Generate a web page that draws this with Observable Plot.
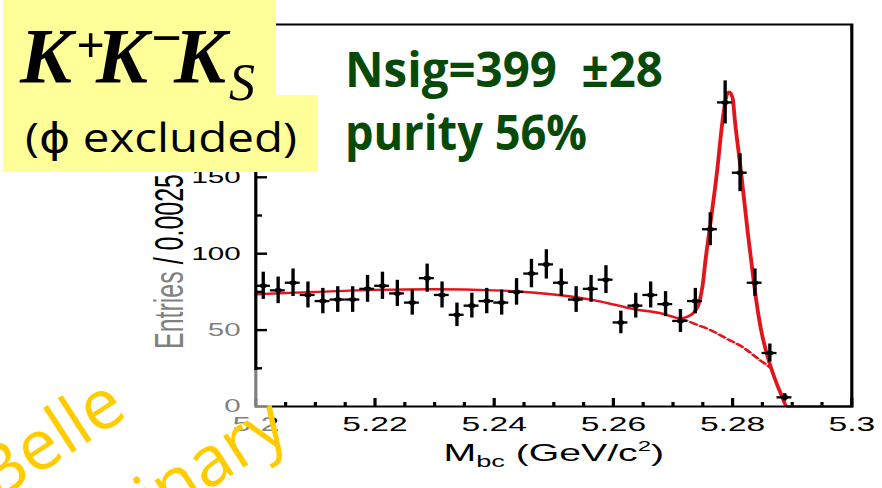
<!DOCTYPE html>
<html>
<head>
<meta charset="utf-8">
<script src="https://cdn.jsdelivr.net/npm/d3@7"></script>
<script src="https://cdn.jsdelivr.net/npm/@observablehq/plot@0.6"></script>
<style>
  html, body { margin: 0; padding: 0; background: #fff; }
  #wrap { position: relative; width: 882px; height: 488px; overflow: hidden; }
  #wrap svg.overlay { position: absolute; left: 0; top: 0; }
</style>
</head>
<body>
<div id="wrap"></div>
<script>
// ---- M_bc histogram, 0.0025 GeV/c^2 bins (bin centres) ----
const binCenters = [
  5.20125, 5.20375, 5.20625, 5.20875, 5.21125, 5.21375, 5.21625, 5.21875,
  5.22125, 5.22375, 5.22625, 5.22875, 5.23125, 5.23375, 5.23625, 5.23875,
  5.24125, 5.24375, 5.24625, 5.24875, 5.25125, 5.25375, 5.25625, 5.25875,
  5.26125, 5.26375, 5.26625, 5.26875, 5.27125, 5.27375, 5.27625, 5.27875,
  5.28125, 5.28375, 5.28625, 5.28875
];
const entries = [
  79, 76, 81, 73, 69, 70, 70, 77,
  79, 74, 68, 84, 73, 60, 66, 69,
  68, 75, 87, 93, 81, 70, 77, 83,
  55, 66, 73, 67, 56, 69, 116, 199,
  153, 81, 35, 6
];
const errors = [
  8.9, 8.7, 9.0, 8.5, 8.3, 8.4, 8.4, 8.8,
  8.9, 8.6, 8.2, 9.2, 8.5, 7.7, 8.1, 8.3,
  8.2, 8.7, 9.3, 9.6, 9.0, 8.4, 8.8, 9.1,
  7.4, 8.1, 8.5, 8.2, 7.5, 8.3, 10.8, 14.1,
  12.4, 9.0, 5.9, 2.4
];
const halfBin = 0.00125;

// ---- total fit (signal + background) ----
const fitMass = [
  5.2000, 5.2100, 5.2200, 5.2300, 5.2400, 5.2500, 5.2579, 5.2634, 5.2680,
  5.2713, 5.2724, 5.2735, 5.2744, 5.2750, 5.2755, 5.2761, 5.2774, 5.2783,
  5.2789, 5.2794, 5.2800, 5.2804, 5.2814, 5.2826, 5.2832, 5.2839, 5.2847,
  5.2859, 5.2870, 5.2881, 5.2892, 5.3000
];
const fitTotal = [
  73.5, 75.0, 76.3, 76.7, 76.0, 73.3, 68.7, 63.7, 61.0,
  57.8, 58.8, 61.5, 68.0, 80.0, 97.4, 114.8, 154.0, 186.6,
  202.0, 206.0, 202.0, 186.6, 154.0, 112.0, 93.0, 71.3, 51.7,
  32.2, 19.1, 8.3, 0, 0
];

// ---- background component (dashed) ----
const bkgMass = [5.2713, 5.2735, 5.2763, 5.2791, 5.2819, 5.2836, 5.2847, 5.2859, 5.2864];
const bkgValue = [57.8, 54.3, 50.0, 44.2, 38.3, 33.3, 30.0, 26.7, 25.2];

// ---- axes ----
const xMajor = [5.2, 5.22, 5.24, 5.26, 5.28, 5.3];
const xTickLabels = ["5.2", "5.22", "5.24", "5.26", "5.28", "5.3"];
const xMinor = [5.205, 5.21, 5.215, 5.225, 5.23, 5.235, 5.245, 5.25, 5.255,
                5.265, 5.27, 5.275, 5.285, 5.29, 5.295];
const yMajor = [0, 50, 100, 150, 200];
const yTickLabels = ["0", "50", "100", "150", "200"];
const yMinor = [25, 75, 125, 175, 225];
const xLabelParts = ["M", "bc", " (GeV/c", "2", ")"];
const xLabelText = xLabelParts.join("");
const yLabelText = "Entries / 0.0025";

// ---- annotations ----
const channelParts = ["K", "+", "K", "\u2212", "K", "S"];
const channelNote = "(\u03d5 excluded)";
const fitNotes = ["Nsig=399\u00a0\u00a0\u00b128", "purity 56%"];
const watermark = ["Belle", "Preliminary"];

const RED = "#e3151c";
const SX = 1.6;             // horizontal stretch of the drawing
const W = 882 / SX;
const mL = 255 / SX, mR = (882 - 851) / SX, mT = 24, mB = 82;
const frameW = W - mL - mR, frameH = 488 - mT - mB;

const bins = binCenters.map((m, i) => ({m, n: entries[i], e: errors[i]}));
const fit = fitMass.map((m, i) => ({m, v: fitTotal[i]}));
const bkg = bkgMass.map((m, i) => ({m, v: bkgValue[i]}));

const plot = Plot.plot({
  width: W,
  height: 488,
  marginLeft: mL,
  marginRight: mR,
  marginTop: mT,
  marginBottom: mB,
  style: {fontFamily: "'Liberation Sans', Arial, sans-serif", background: "transparent", color: "#000"},
  x: {domain: [5.2, 5.3]},
  y: {domain: [0, 250]},
  marks: [
    // inward ticks
    Plot.tickY(yMajor, {y: d => d, insetRight: frameW - 7.5, stroke: "#000", strokeWidth: 2.4}),
    Plot.tickY(yMinor, {y: d => d, insetRight: frameW - 4.4, stroke: "#000", strokeWidth: 2.4}),
    Plot.tickX(xMajor, {x: d => d, insetTop: frameH - 8, stroke: "#000", strokeWidth: 2}),
    Plot.tickX(xMinor, {x: d => d, insetTop: frameH - 4, stroke: "#000", strokeWidth: 2}),
    // tick labels
    Plot.axisY(yMajor, {tickSize: 0, tickPadding: 9.4, fontSize: 18.5, fill: "#000", label: null,
      tickFormat: d => yTickLabels[yMajor.indexOf(d)]}),
    Plot.axisX(xMajor, {tickSize: 0, tickPadding: 10, fontSize: 21, fill: "#000", label: null,
      tickFormat: d => xTickLabels[xMajor.indexOf(d)]}),
    // fit curves
    Plot.line(fit, {x: "m", y: "v", stroke: RED, strokeWidth: 2.4, curve: "monotone-x"}),
    Plot.line(bkg, {x: "m", y: "v", stroke: RED, strokeWidth: 2.2, strokeDasharray: "4.5,2.8", curve: "monotone-x"}),
    // data points with errors
    Plot.ruleX(bins, {x: "m", y1: d => d.n - d.e, y2: d => d.n + d.e, stroke: "#000", strokeWidth: 2.1}),
    Plot.ruleY(bins, {y: "n", x1: d => d.m - halfBin, x2: d => d.m + halfBin, stroke: "#000", strokeWidth: 2.3}),
    Plot.dot(bins, {x: "m", y: "n", r: 2.3, fill: "#000"}),
    Plot.frame({stroke: "#000", strokeWidth: 2}),
    // axis titles
    Plot.text([yLabelText], {text: d => d, frameAnchor: "left", dx: (182 - 255) / SX, dy: 46,
      rotate: -90, textAnchor: "middle", lineAnchor: "bottom", fontSize: 25, fill: "#000"}),
    Plot.text([xLabelText], {text: d => d, frameAnchor: "bottom", dy: 54,
      textAnchor: "middle", lineAnchor: "bottom", fontSize: 24.5, fill: "#000"})
  ]
});

// x title with subscript / superscript
d3.select(plot).selectAll("text")
  .filter(function () { return this.textContent === xLabelText; })
  .each(function () {
    const t = d3.select(this).style("white-space", "pre").text(null);
    const spec = [[0, null], [6, 17], [-6, 24.5], [-10, 15], [10, 24.5]];
    xLabelParts.forEach((s, i) => {
      const ts = t.append("tspan").text(s);
      if (spec[i][0]) ts.attr("dy", spec[i][0]);
      if (spec[i][1]) ts.attr("font-size", spec[i][1]);
    });
  });

// stretch the drawing horizontally
plot.setAttribute("width", 882);
plot.setAttribute("height", 488);
plot.setAttribute("preserveAspectRatio", "none");
plot.style.width = "882px";
plot.style.height = "488px";
plot.style.maxWidth = "none";

const wrap = document.getElementById("wrap");
wrap.appendChild(plot);

// overlay: faded corner, watermark, channel box and fit results
const ns = "http://www.w3.org/2000/svg";
const ov = d3.select(wrap).append("svg")
  .attr("class", "overlay").attr("xmlns", ns)
  .attr("width", 882).attr("height", 488);

ov.append("rect").attr("x", 138).attr("y", 266).attr("width", 114).attr("height", 174)
  .attr("fill", "#fff").attr("fill-opacity", 0.5);
ov.append("rect").attr("x", 252).attr("y", 370).attr("width", 20).attr("height", 70)
  .attr("fill", "#fff").attr("fill-opacity", 0.5);

const wm = ov.append("g").attr("fill", "#ffcc00")
  .attr("font-family", "'Open Sans', sans-serif").attr("font-weight", 500);
wm.append("text").attr("transform", "translate(-4,502) rotate(-33)")
  .attr("font-size", 70).text(watermark[0]);
wm.append("text").attr("transform", "translate(292,436) rotate(-33)")
  .attr("text-anchor", "end").attr("font-size", 70).text(watermark[1]);

ov.append("rect").attr("x", 3).attr("y", 0).attr("width", 273).attr("height", 96).attr("fill", "#ffff99");
ov.append("rect").attr("x", 3).attr("y", 95).attr("width", 315).attr("height", 77).attr("fill", "#ffff99");

const kk = ov.append("g").attr("fill", "#000")
  .attr("font-family", "'Liberation Serif', 'Times New Roman', serif")
  .attr("font-style", "italic");
const kPos = [
  {x: 20, y: 82, size: 78, w: "bold"},
  {x: 76, y: 62, size: 50, w: "bold"},
  {x: 96, y: 82, size: 78, w: "bold"},
  {x: 150, y: 56, size: 54, w: "bold"},
  {x: 174, y: 82, size: 78, w: "bold"},
  {x: 229, y: 100, size: 52, w: "normal"}
];
channelParts.forEach((s, i) => {
  kk.append("text").attr("x", kPos[i].x).attr("y", kPos[i].y)
    .attr("font-size", kPos[i].size).attr("font-weight", kPos[i].w).text(s);
});

ov.append("text").attr("x", 25).attr("y", 152)
  .attr("font-family", "'Open Sans', 'DejaVu Sans', sans-serif").attr("font-size", 40)
  .attr("textLength", 272).attr("lengthAdjust", "spacingAndGlyphs")
  .attr("fill", "#000").text(channelNote);

const g = ov.append("g").attr("fill", "#074a07")
  .attr("font-family", "'Open Sans', sans-serif").attr("font-weight", 700).attr("font-size", 48);
g.append("text").attr("x", 345).attr("y", 87)
  .attr("textLength", 318).attr("lengthAdjust", "spacingAndGlyphs").text(fitNotes[0]);
g.append("text").attr("x", 345).attr("y", 150)
  .attr("textLength", 242).attr("lengthAdjust", "spacingAndGlyphs").text(fitNotes[1]);
</script>
</body>
</html>
